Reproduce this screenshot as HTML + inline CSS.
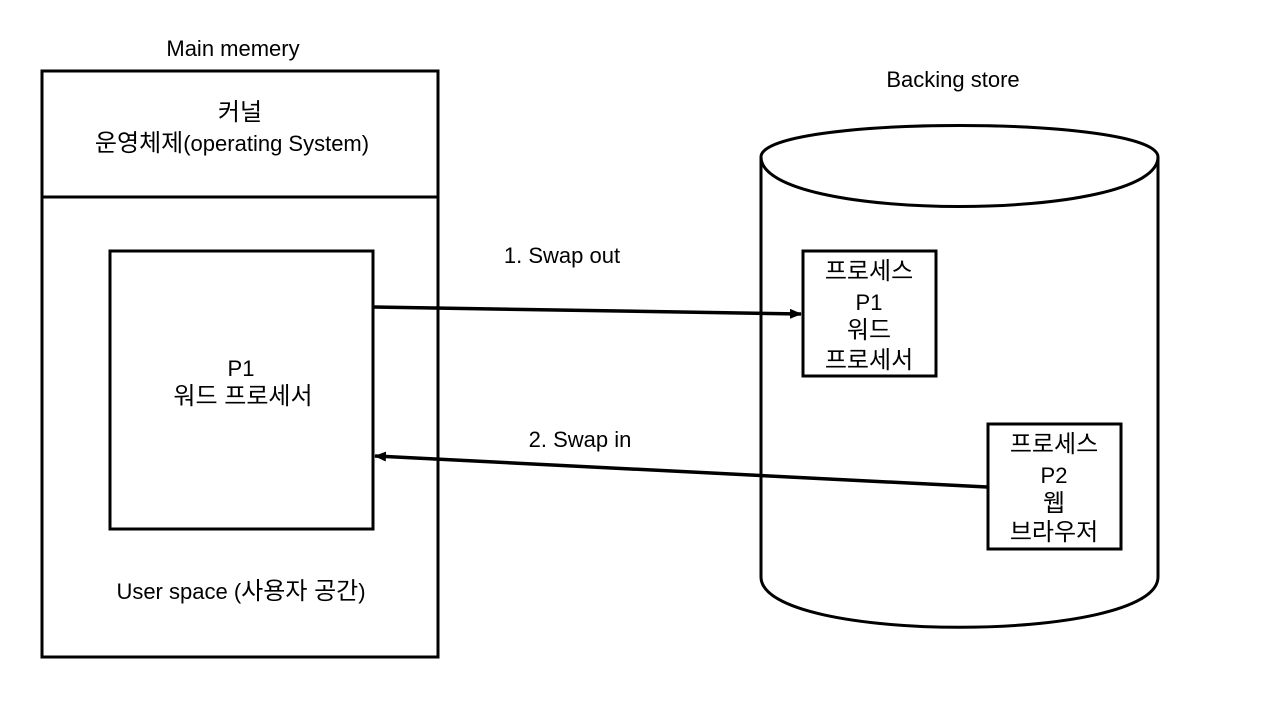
<!DOCTYPE html>
<html><head><meta charset="utf-8"><style>
html,body{margin:0;padding:0;background:#fff;}
svg text{font-family:"Liberation Sans","Noto Sans CJK KR",sans-serif;font-size:22px;fill:#000;text-anchor:middle;}
svg tspan.k{font-size:24px;}
</style></head><body>
<svg width="1280" height="720" viewBox="0 0 1280 720" xmlns="http://www.w3.org/2000/svg">
<defs><marker id="ah" markerWidth="12" markerHeight="10" refX="11" refY="5" orient="auto" markerUnits="userSpaceOnUse"><path d="M0,0 L12,5 L0,10 z" fill="#000"/></marker></defs>
<g fill="none" stroke="#000" stroke-width="3">
<rect x="42" y="71" width="396" height="586"/>
<line x1="42" y1="197" x2="438" y2="197"/>
<rect x="110" y="251" width="263" height="278"/>
<path d="M761,157 C761,115 1158,115 1158,157 C1158,223 761,223 761,157 Z"/>
<path d="M761,157 L761,577 C761,644 1158,644 1158,577 L1158,157"/>
<rect x="803" y="251" width="133" height="125" fill="#fff"/>
<rect x="988" y="424" width="133" height="125" fill="#fff"/>
<line x1="373" y1="307" x2="801" y2="314" stroke-width="3.5" marker-end="url(#ah)"/>
<line x1="987" y1="487" x2="375" y2="456" stroke-width="3.5" marker-end="url(#ah)"/>
</g>
<text x="233" y="56">Main memery</text>
<text x="953" y="87">Backing store</text>
<text x="240" y="120"><tspan class="k">커널</tspan></text>
<text x="232" y="151"><tspan class="k">운영체제</tspan>(operating  System)</text>
<text x="241" y="376">P1</text>
<text x="243" y="404"><tspan class="k">워드 프로세서</tspan></text>
<text x="241" y="599">User space (<tspan class="k">사용자 공간</tspan>)</text>
<text x="562" y="263">1. Swap out</text>
<text x="580" y="447">2. Swap in</text>
<text x="869" y="279"><tspan class="k">프로세스</tspan></text>
<text x="869" y="310">P1</text>
<text x="869" y="338"><tspan class="k">워드</tspan></text>
<text x="869" y="368"><tspan class="k">프로세서</tspan></text>
<text x="1054" y="452"><tspan class="k">프로세스</tspan></text>
<text x="1054" y="483">P2</text>
<text x="1054" y="511"><tspan class="k">웹</tspan></text>
<text x="1054" y="540"><tspan class="k">브라우저</tspan></text>
</svg>
</body></html>
